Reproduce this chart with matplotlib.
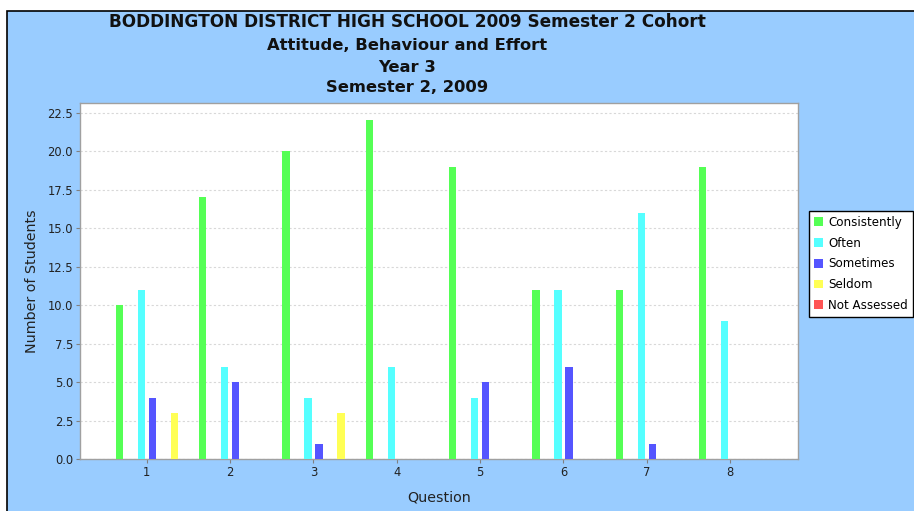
import numpy as np
import matplotlib
matplotlib.use("Agg")
import matplotlib.pyplot as plt
from matplotlib.patches import Rectangle

# data
questions = ["1", "2", "3", "4", "5", "6", "7", "8"]
series_names = ["Consistently", "Often", "Sometimes", "Seldom", "Not Assessed"]
consistently = [10, 17, 20, 22, 19, 11, 11, 19]
often = [11, 6, 4, 6, 4, 11, 16, 9]
sometimes = [4, 5, 1, 0, 5, 6, 1, 0]
seldom = [3, 0, 3, 0, 0, 0, 0, 0]
not_assessed = [0, 0, 0, 0, 0, 0, 0, 0]

colors = ["#55FF55", "#55FFFF", "#5555FF", "#FFFF55", "#FF5555"]
slot = 0.132
offsets = [-2.5 * slot, -0.5 * slot, 0.5 * slot, 2.5 * slot, 1.5 * slot]
bar_w = 0.088

fig = plt.figure(figsize=(9.14, 5.11), dpi=100)
fig.patch.set_facecolor("white")
# chart panel background with dark border
fig.patches.append(Rectangle((7 / 914, -0.05), 1.1, 1 - 11 / 511 + 0.05,
                             transform=fig.transFigure, facecolor="#99CCFF",
                             edgecolor="black", linewidth=1.2, zorder=-10))

ax = fig.add_axes([80 / 914, 1 - 459.3 / 511, (797.7 - 80) / 914, (459.3 - 103) / 511])
ax.set_facecolor("white")

x = np.arange(1, len(questions) + 1)
all_vals = [consistently, often, sometimes, seldom, not_assessed]
for vals, name, col, off in zip(all_vals, series_names, colors, offsets):
    ax.bar(x + off, vals, width=bar_w, color=col, label=name, zorder=3)

ax.set_xlim(0.20, 8.81)
ax.set_ylim(0, 23.13)
ax.set_yticks(np.arange(0, 22.6, 2.5))
ax.set_yticklabels([f"{v:.1f}" for v in np.arange(0, 22.6, 2.5)])
ax.set_xticks(x)
ax.set_xticklabels(questions)
ax.yaxis.grid(True, color="#D8D8D8", linestyle=(0, (2, 2)), linewidth=0.8, zorder=0)
ax.tick_params(axis="both", labelsize=8.3, colors="#808080", labelcolor="#222222",
               length=3, width=0.8, pad=2)
for s in ax.spines.values():
    s.set_color("#A0A0A0")
    s.set_linewidth(1.0)

ax.set_ylabel("Number of Students", fontsize=10.3, color="#222222", labelpad=6)
ax.set_xlabel("Question", fontsize=10.3, color="#222222", labelpad=8)

title_lines = ["BODDINGTON DISTRICT HIGH SCHOOL 2009 Semester 2 Cohort",
               "Attitude, Behaviour and Effort",
               "Year 3",
               "Semester 2, 2009"]
title_y = [22, 45, 67, 87]
title_size = [12.2, 11.8, 11.8, 11.8]
for line, yy, fs in zip(title_lines, title_y, title_size):
    fig.text(407 / 914, 1 - yy / 511, line, ha="center", va="center",
             fontsize=fs, fontweight="bold", color="#111111")

leg = fig.legend(loc="upper left", bbox_to_anchor=(809 / 914, 1 - 211 / 511),
                 fontsize=8.6, frameon=True, fancybox=False, borderpad=0.4,
                 handlelength=0.75, handleheight=0.75, handletextpad=0.45,
                 labelspacing=0.65, borderaxespad=0)
leg.get_frame().set_edgecolor("black")
leg.get_frame().set_linewidth(1.0)
leg.get_frame().set_facecolor("white")
leg.get_frame().set_alpha(1)

fig.savefig("out.png", dpi=100)
